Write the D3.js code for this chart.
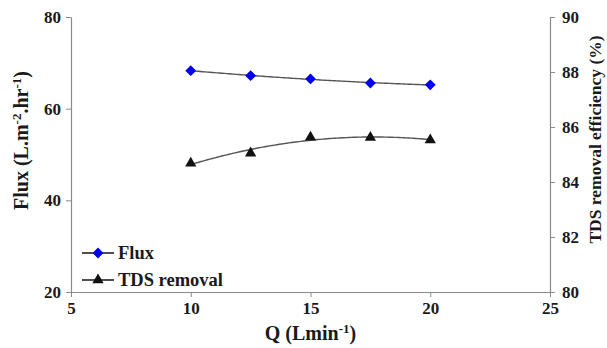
<!DOCTYPE html>
<html>
<head>
<meta charset="utf-8">
<script src="https://cdn.jsdelivr.net/npm/d3@7"></script>
<style>
    body { margin: 0; background: #fff; }
    text { font-family: "Liberation Serif", "Times New Roman", serif; font-weight: bold; fill: #1a1a1a; }
</style>
</head>
<body>
<svg id="chart" width="607" height="348"></svg>
<script>
// Data
const q_values = [10, 12.5, 15, 17.5, 20];
const flux = [68.3, 67.2, 66.5, 65.6, 65.2];
const tds_removal = [84.68, 85.05, 85.63, 85.62, 85.53];

const x_ticks = [5, 10, 15, 20, 25];
const flux_ticks = [20, 40, 60, 80];
const tds_ticks = [80, 82, 84, 86, 88, 90];

// Layout
const plot_left = 71, plot_right = 550, plot_top = 17, plot_bottom = 292;
const axis_color = '#8a8a8a';

const svg = d3.select('#chart');

const x = d3.scaleLinear().domain([5, 25]).range([plot_left, plot_right]);
const yFlux = d3.scaleLinear().domain([20, 80]).range([plot_bottom, plot_top]);
const yTds = d3.scaleLinear().domain([80, 90]).range([plot_bottom, plot_top]);

function style_axis(g, fontSize) {
    g.select('.domain').attr('stroke', axis_color).attr('stroke-width', 1.2);
    g.selectAll('.tick line').attr('stroke', axis_color);
    g.selectAll('.tick text')
        .attr('font-size', fontSize)
        .attr('font-family', '"Liberation Serif", serif')
        .attr('font-weight', 'bold')
        .attr('fill', '#1a1a1a');
}

// Axes
svg.append('g')
    .attr('transform', `translate(0, ${plot_bottom})`)
    .call(d3.axisBottom(x).tickValues(x_ticks).tickSize(5).tickSizeOuter(0).tickPadding(5))
    .call(g => style_axis(g, 17));

svg.append('g')
    .attr('transform', `translate(${plot_left}, 0)`)
    .call(d3.axisLeft(yFlux).tickValues(flux_ticks).tickSize(5).tickSizeOuter(0).tickPadding(5))
    .call(g => style_axis(g, 17));

svg.append('g')
    .attr('transform', `translate(${plot_right}, 0)`)
    .call(d3.axisRight(yTds).tickValues(tds_ticks).tickSize(5).tickSizeOuter(0).tickPadding(7))
    .call(g => style_axis(g, 17));

// Axis titles
const xTitle = svg.append('text')
    .attr('x', (plot_left + plot_right) / 2)
    .attr('y', 340)
    .attr('text-anchor', 'middle')
    .attr('font-size', 20);
xTitle.append('tspan').text('Q (Lmin');
xTitle.append('tspan').attr('dy', -7).attr('font-size', 13).text('-1');
xTitle.append('tspan').attr('dy', 7).text(')');

const yTitle = svg.append('text')
    .attr('transform', `translate(28, ${(plot_top + plot_bottom) / 2 - 14}) rotate(-90)`)
    .attr('text-anchor', 'middle')
    .attr('font-size', 20);
yTitle.append('tspan').text('Flux (L.m');
yTitle.append('tspan').attr('dy', -7).attr('font-size', 13).text('-2');
yTitle.append('tspan').attr('dy', 7).text('.hr');
yTitle.append('tspan').attr('dy', -7).attr('font-size', 13).text('-1');
yTitle.append('tspan').attr('dy', 7).text(')');

svg.append('text')
    .attr('transform', `translate(601, ${(plot_top + plot_bottom) / 2 - 15}) rotate(-90)`)
    .attr('text-anchor', 'middle')
    .attr('font-size', 17.5)
    .text('TDS removal efficiency (%)');

// Quadratic trendline (least squares fit from the data)
function quad_fit(xs, ys) {
    let n = xs.length, s = [0, 0, 0, 0, 0], t = [0, 0, 0];
    for (let i = 0; i < n; i++) {
        let p = 1;
        for (let k = 0; k < 5; k++) { s[k] += p; if (k < 3) t[k] += p * ys[i]; p *= xs[i]; }
    }
    const A = [[s[0], s[1], s[2]], [s[1], s[2], s[3]], [s[2], s[3], s[4]]];
    const b = t.slice();
    for (let i = 0; i < 3; i++) {
        for (let j = i + 1; j < 3; j++) {
            const f = A[j][i] / A[i][i];
            for (let k = i; k < 3; k++) A[j][k] -= f * A[i][k];
            b[j] -= f * b[i];
        }
    }
    const c = [0, 0, 0];
    for (let i = 2; i >= 0; i--) {
        let v = b[i];
        for (let k = i + 1; k < 3; k++) v -= A[i][k] * c[k];
        c[i] = v / A[i][i];
    }
    return xv => c[0] + c[1] * xv + c[2] * xv * xv;
}

const fitPts = d3.range(q_values[0], q_values[q_values.length - 1] + 0.01, 0.1);

const tdsFit = quad_fit(q_values, tds_removal);
svg.append('path')
    .attr('d', d3.line().x(d => x(d)).y(d => yTds(tdsFit(d)))(fitPts))
    .attr('fill', 'none')
    .attr('stroke', '#555')
    .attr('stroke-width', 1.4);

const fluxFit = quad_fit(q_values, flux);
svg.append('path')
    .attr('d', d3.line().x(d => x(d)).y(d => yFlux(fluxFit(d)))(fitPts))
    .attr('fill', 'none')
    .attr('stroke', '#555')
    .attr('stroke-width', 1.4);

// Markers
const diamond = d3.symbol().type(d3.symbolDiamond2).size(75);
const triangle = d3.symbol().type(d3.symbolTriangle).size(55);

svg.selectAll('path.flux-pt')
    .data(q_values)
    .join('path')
    .classed('flux-pt', true)
    .attr('d', diamond)
    .attr('fill', '#0000ee')
    .attr('transform', (d, i) => `translate(${x(d)}, ${yFlux(flux[i])})`);

svg.selectAll('path.tds-pt')
    .data(q_values)
    .join('path')
    .classed('tds-pt', true)
    .attr('d', triangle)
    .attr('fill', '#111')
    .attr('transform', (d, i) => `translate(${x(d)}, ${yTds(tds_removal[i])})`);

// Legend
const legend = [
    { name: 'Flux', symbol: diamond, color: '#0000ee', y: 253 },
    { name: 'TDS removal', symbol: triangle, color: '#111', y: 280 }
];
const lg = svg.selectAll('g.legend')
    .data(legend)
    .join('g')
    .classed('legend', true)
    .attr('transform', d => `translate(82, ${d.y})`);
lg.append('line')
    .attr('x1', 0).attr('x2', 32)
    .attr('stroke', '#222').attr('stroke-width', 1.6);
lg.append('path')
    .attr('d', d => d.symbol())
    .attr('fill', d => d.color)
    .attr('transform', 'translate(16, 0)');
lg.append('text')
    .attr('x', 36)
    .attr('y', 6)
    .attr('font-size', 18.5)
    .text(d => d.name);
</script>
</body>
</html>
